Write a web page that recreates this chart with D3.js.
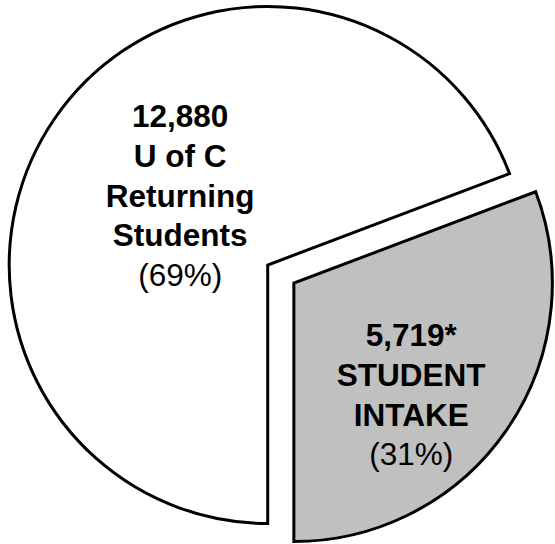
<!DOCTYPE html>
<html>
<head>
<meta charset="utf-8">
<script src="https://cdn.jsdelivr.net/npm/d3@7"></script>
<style>
  html, body { margin: 0; padding: 0; background: #ffffff; }
  svg { display: block; }
</style>
</head>
<body>
<svg id="chart" width="555" height="544"></svg>
<script>
// ---- data ----
const categories = ["U of C Returning Students", "Student Intake"];
const values = [12880, 5719];
const valueLabels = ["12,880", "5,719*"];
const nameLines = [["U of C", "Returning", "Students"], ["STUDENT", "INTAKE"]];
const percentLabels = ["(69%)", "(31%)"];
const fills = ["#ffffff", "#c0c0c0"];

// ---- layout ----
const W = 555, H = 544;
const cx = 267.7, cy = 265, R = 258.5;
const explode = [0, 31.8];
const labelAnchor = [ {dx: -87.5, dy: -138}, {dx: 143.5, dy: 81} ];
const lineStep = 39.8;
const fontSize = 31.5;

const svg = d3.select("#chart");
const g = svg.append("g").attr("transform", `translate(${cx},${cy})`);

const pie = d3.pie().sort(null).startAngle(Math.PI).endAngle(3 * Math.PI);
const arcs = pie(values);
const arc = d3.arc().innerRadius(0).outerRadius(R);

arcs.forEach((a, i) => {
  const mid = (a.startAngle + a.endAngle) / 2;
  const ox = Math.sin(mid) * explode[i];
  const oy = -Math.cos(mid) * explode[i];
  g.append("path")
    .attr("d", arc(a))
    .attr("transform", `translate(${ox},${oy})`)
    .attr("fill", fills[i])
    .attr("stroke", "#000")
    .attr("stroke-width", 3)
    .attr("stroke-linejoin", "miter");

  const lines = [{t: valueLabels[i], b: true}]
    .concat(nameLines[i].map(t => ({t, b: true})))
    .concat([{t: percentLabels[i], b: false}]);
  const txt = g.append("text")
    .attr("text-anchor", "middle")
    .attr("font-family", "'Liberation Sans', Arial, Helvetica, sans-serif")
    .attr("font-size", fontSize)
    .attr("fill", "#000");
  lines.forEach((l, k) => {
    txt.append("tspan")
      .attr("x", labelAnchor[i].dx)
      .attr("y", labelAnchor[i].dy + k * lineStep)
      .attr("font-weight", l.b ? "bold" : "normal")
      .text(l.t);
  });
});
</script>
</body>
</html>
